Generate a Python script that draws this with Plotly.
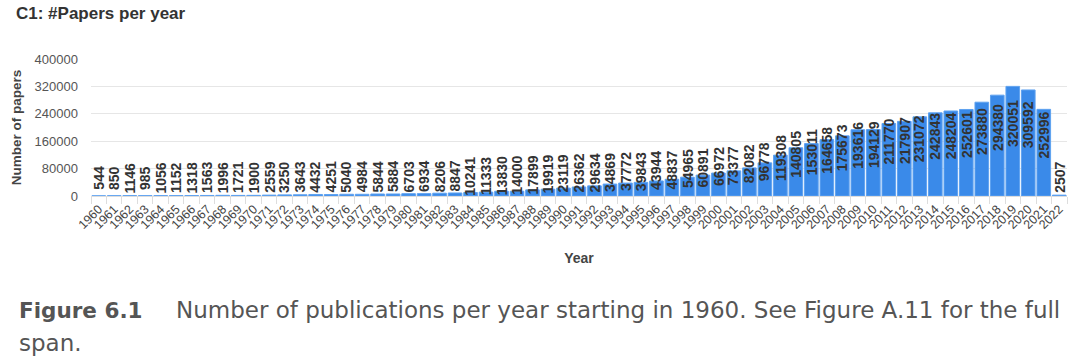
import plotly.graph_objects as go

years = [str(y) for y in range(1960, 2023)]
papers = [544, 850, 1146, 985, 1056, 1152, 1318, 1563, 1996, 1721,
          1900, 2559, 3250, 3643, 4432, 4251, 5040, 4984, 5844, 5884,
          6703, 6934, 8206, 8847, 10241, 11333, 13830, 14000, 17899, 19919,
          23119, 26362, 29634, 34869, 37772, 39843, 43944, 48837, 54965, 60891,
          66972, 73377, 82082, 96778, 119308, 140805, 153011, 164658, 175673, 193616,
          194129, 211770, 217907, 231072, 242843, 248204, 252601, 273880, 294380, 320051,
          309592, 252996, 2507]
y_ticks = [0, 80000, 160000, 240000, 320000, 400000]

title_text = "C1: #Papers per year"
x_title = "Year"
y_title = "Number of papers"
caption_bold = "Figure 6.1"
caption_line1 = "Number of publications per year starting in 1960. See Figure A.11 for the full"
caption_line2 = "span."

W, H = 1080, 361
L, R, T, B = 91, 13, 59, 165
plot_w = W - L - R
plot_h = H - T - B

fig = go.Figure()
fig.add_trace(go.Bar(
    x=years, y=papers,
    marker=dict(color="#3a8ae9", line=dict(color="#5fa2f0", width=1)),
    hoverinfo="x+y",
))

annotations = []
for i, v in enumerate(papers):
    annotations.append(dict(
        x=i, y=v / 2, xref="x", yref="y", text="<b>" + str(v) + "</b>", showarrow=False,
        textangle=-90, yanchor="middle", xanchor="center", yshift=18,
        font=dict(family="Liberation Sans, Arial, sans-serif", size=14, color="#333333"),
    ))

def px_to_paper_x(px):
    return (px - L) / plot_w

def px_to_paper_y(py):
    return (H - B - py) / plot_h

cap_font = dict(family="DejaVu Sans, sans-serif", size=23, color="#555555")
cap_font_bold = dict(family="DejaVu Sans, sans-serif", size=21.5, color="#555555")
annotations.append(dict(
    x=px_to_paper_x(17), y=px_to_paper_y(310), xref="paper", yref="paper",
    xanchor="left", yanchor="middle", showarrow=False,
    text="<b>" + caption_bold + "</b>", font=cap_font_bold,
))
annotations.append(dict(
    x=px_to_paper_x(174), y=px_to_paper_y(310), xref="paper", yref="paper",
    xanchor="left", yanchor="middle", showarrow=False,
    text=caption_line1, font=cap_font,
))
annotations.append(dict(
    x=px_to_paper_x(17), y=px_to_paper_y(343), xref="paper", yref="paper",
    xanchor="left", yanchor="middle", showarrow=False,
    text=caption_line2, font=cap_font,
))

fig.update_layout(
    width=W, height=H,
    margin=dict(l=L, r=R, t=T, b=B, pad=0),
    paper_bgcolor="white", plot_bgcolor="white",
    bargap=0.12,
    showlegend=False,
    title=dict(text="<b>" + title_text + "</b>", x=16 / W, xanchor="left", xref="container",
               y=1 - 13 / H, yanchor="middle", yref="container",
               font=dict(family="Liberation Sans, Arial, sans-serif", size=17, color="#333333")),
    font=dict(family="Liberation Sans, Arial, sans-serif", color="#555555"),
    annotations=annotations,
)
fig.update_xaxes(
    type="category", range=[-0.5, len(years) - 0.5], tickangle=-45,
    tickfont=dict(size=12.5, color="#444444"),
    ticks="outside", tickson="boundaries", ticklen=7, tickcolor="#dddddd",
    showline=True, linecolor="#dddddd", linewidth=1, showgrid=False,
    title=dict(text="<b>" + x_title + "</b>", font=dict(size=14, color="#444444"), standoff=22),
)
fig.update_yaxes(
    range=[0, 400000], tickvals=y_ticks, ticktext=[str(t) for t in y_ticks],
    tickfont=dict(size=13, color="#555555"), showgrid=True, gridcolor="#e6e6e6", gridwidth=1,
    zeroline=False, showline=False, ticks="", ticklabelstandoff=12,
    title=dict(text="<b>" + y_title + "</b>", font=dict(size=13.5, color="#444444"), standoff=9),
)

fig.write_html("out.html", config={"displayModeBar": False},
               post_script="document.body.style.margin='0';")
